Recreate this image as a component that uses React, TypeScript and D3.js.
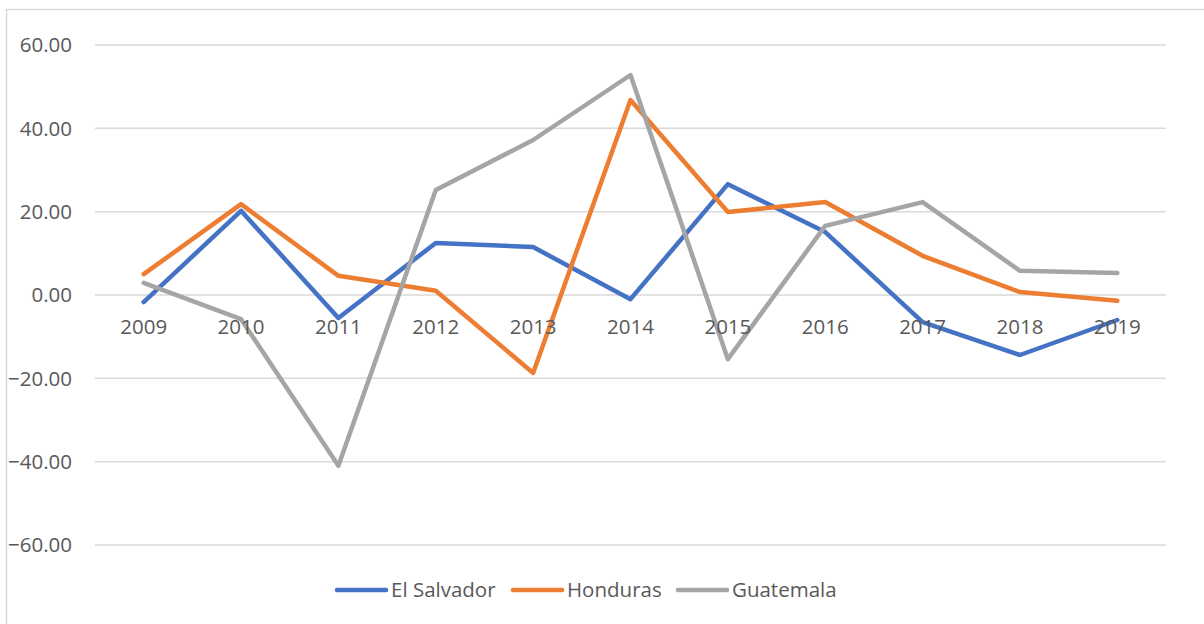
import { useEffect, useRef } from 'react';
import * as d3 from 'd3';

const years = ['2009', '2010', '2011', '2012', '2013', '2014', '2015', '2016', '2017', '2018', '2019'];
const elSalvador = [-1.7, 20.2, -5.5, 12.5, 11.5, -1.0, 26.6, 15.1, -6.5, -14.4, -6.0];
const honduras = [5.0, 21.8, 4.6, 1.0, -18.7, 46.8, 19.9, 22.3, 9.4, 0.7, -1.4];
const guatemala = [2.9, -5.8, -41.0, 25.2, 37.2, 52.8, -15.4, 16.6, 22.3, 5.8, 5.3];
const yTicks = [60, 40, 20, 0, -20, -40, -60];

const series = [
    { name: 'El Salvador', values: elSalvador, color: '#4472C4' },
    { name: 'Honduras', values: honduras, color: '#ED7D31' },
    { name: 'Guatemala', values: guatemala, color: '#A5A5A5' },
];

const font = '"Open Sans", "Liberation Sans", sans-serif';

function LineChart() {
    const chartRef = useRef<SVGSVGElement>(null);

    useEffect(() => {
        const svg = d3.select(chartRef.current);
        svg.selectAll('*').remove();

        // outer chart border
        svg.append('rect')
            .attr('x', 6.5)
            .attr('y', 9.5)
            .attr('width', 1240)
            .attr('height', 700)
            .attr('fill', '#fff')
            .attr('stroke', '#D9D9D9')
            .attr('stroke-width', 1.5);

        const left = 95;
        const right = 1166;

        const x = d3.scaleBand().domain(years).range([left, right]);
        const y = d3.scaleLinear().domain([-60, 60]).range([545, 45]);

        const grid = svg.append('g');
        yTicks.forEach((t) => {
            grid.append('line')
                .attr('x1', left)
                .attr('x2', right)
                .attr('y1', y(t))
                .attr('y2', y(t))
                .attr('stroke', '#D9D9D9')
                .attr('stroke-width', 1.5);
            grid.append('text')
                .attr('x', 72)
                .attr('y', y(t))
                .attr('dy', '0.35em')
                .attr('text-anchor', 'end')
                .attr('font-family', font)
                .attr('font-size', 20.5)
                .attr('fill', '#595959')
                .text(d3.format('.2f')(t));
        });

        const line = d3.line<number>()
            .x((_, i) => (x(years[i]) as number) + x.bandwidth() / 2)
            .y((d) => y(d));

        series.forEach((s) => {
            svg.append('path')
                .datum(s.values)
                .attr('d', line)
                .attr('fill', 'none')
                .attr('stroke', s.color)
                .attr('stroke-width', 4.5)
                .attr('stroke-linejoin', 'round')
                .attr('stroke-linecap', 'round');
        });

        // category labels sit just under the zero line
        svg.append('g')
            .selectAll('text')
            .data(years)
            .enter()
            .append('text')
            .attr('x', (d) => (x(d) as number) + x.bandwidth() / 2)
            .attr('y', y(0) + 32)
            .attr('dy', '0.35em')
            .attr('text-anchor', 'middle')
            .attr('font-family', font)
            .attr('font-size', 20.5)
            .attr('fill', '#595959')
            .text((d) => d);

        const legendX = [337, 513, 678];
        const legend = svg.append('g');
        series.forEach((s, i) => {
            legend.append('line')
                .attr('x1', legendX[i])
                .attr('x2', legendX[i] + 49)
                .attr('y1', 590)
                .attr('y2', 590)
                .attr('stroke', s.color)
                .attr('stroke-width', 4.5)
                .attr('stroke-linecap', 'round');
            legend.append('text')
                .attr('x', legendX[i] + 54)
                .attr('y', 590)
                .attr('dy', '0.35em')
                .attr('font-family', font)
                .attr('font-size', 20.5)
                .attr('fill', '#595959')
                .text(s.name);
        });
    }, []);

    return (
        <svg
            ref={chartRef}
            width="1204"
            height="624"
            style={{ position: 'fixed', left: 0, top: 0, background: '#fff' }}
        ></svg>
    );
}

export default function App() {
    return <LineChart />;
}
